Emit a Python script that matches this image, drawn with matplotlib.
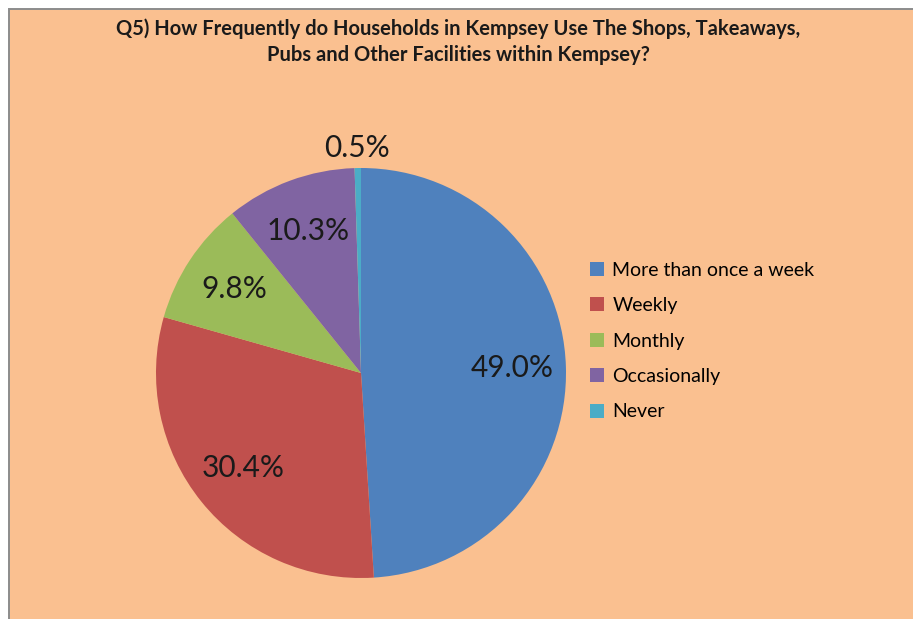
import matplotlib

matplotlib.use("Agg")
import matplotlib.pyplot as plt
import numpy as np

# Survey answers (share of households, %)
categories = ["More than once a week", "Weekly", "Monthly", "Occasionally", "Never"]
shares = [49.0, 30.4, 9.8, 10.3, 0.5]
colors = ["#4F81BD", "#C0504D", "#9BBB59", "#8064A2", "#4BACC6"]
title = ("Q5) How Frequently do Households in Kempsey Use The Shops, Takeaways,\n"
         "Pubs and Other Facilities within Kempsey?")

plt.rcParams["font.family"] = ["Lato", "DejaVu Sans"]
bg = "#FAC090"

W, H = 913, 619
fig = plt.figure(figsize=(W / 100, H / 100), dpi=100, facecolor="white")

# orange chart area, grey border only visible on top and left (cropped image)
fig.patches.append(plt.Rectangle((8.5 / W, -0.05), 1.1, (H - 8.5) / H + 0.05,
                                 transform=fig.transFigure, facecolor=bg,
                                 edgecolor="#8c8c8c", linewidth=1.4, zorder=-10))

fig.text(458 / W, 1 - 42 / H, title, ha="center", va="center",
         fontsize=14.5, fontweight="bold", color="#1a1a1a", linespacing=1.35)

# pie axes: centre (361, 373) px, radius 205 px
lim = 1.15
r = 205
cx, cy = 361, H - 373
half = lim * r
ax = fig.add_axes([(cx - half) / W, (cy - half) / H, 2 * half / W, 2 * half / H])
ax.patch.set_alpha(0)
wedges, texts, autotexts = ax.pie(
    shares, colors=colors, startangle=90, counterclock=False,
    autopct="%.1f%%", pctdistance=0.74,
    textprops={"fontsize": 21.5, "color": "#1a1a1a"},
    wedgeprops={"linewidth": 0},
)
ax.set_xlim(-lim, lim)
ax.set_ylim(-lim, lim)
ax.set_aspect("equal")
ax.axis("off")

# tiny slice label sits just outside the pie
w = wedges[-1]
mid = np.deg2rad((w.theta1 + w.theta2) / 2)
autotexts[-1].set_position((1.1 * np.cos(mid), 1.1 * np.sin(mid)))

fig.legend(wedges, categories, loc="center left",
           bbox_to_anchor=(580 / W, 1 - 341 / H), frameon=False,
           fontsize=14, handlelength=0.72, handleheight=0.72,
           handletextpad=0.45, labelspacing=0.95, borderpad=0)

fig.savefig("out.png", dpi=100, facecolor="white")
